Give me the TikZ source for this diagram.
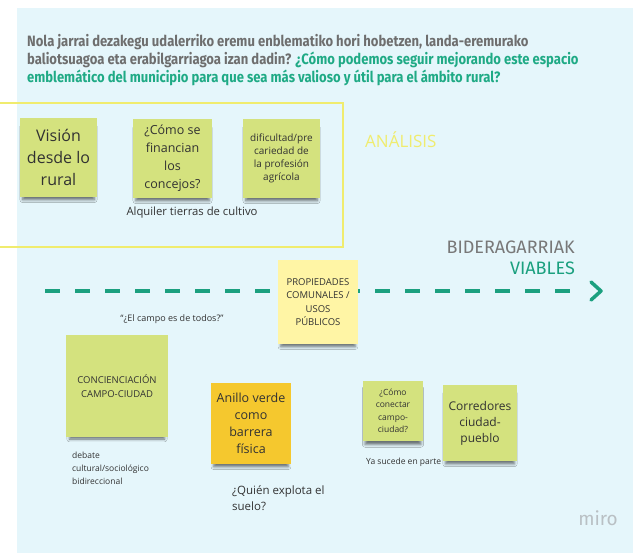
\documentclass[tikz,border=0pt]{standalone}
\usepackage{fontspec}
\setmainfont{Open Sans}
\newfontfamily\titlefont[FakeStretch=0.87]{Fira Sans}
\newfontfamily\headfont{Fira Sans}
\usetikzlibrary{shadows,shadows.blur,arrows.meta}
\definecolor{panel}{RGB}{229,246,251}
\definecolor{notegreen}{RGB}{212,226,126}
\definecolor{noteorange}{RGB}{245,200,46}
\definecolor{noteyellow}{RGB}{255,245,165}
\definecolor{teal}{RGB}{27,160,127}
\definecolor{titleteal}{RGB}{31,170,133}
\definecolor{titlegray}{RGB}{110,110,110}
\definecolor{headgray}{RGB}{120,120,120}
\definecolor{boxyellow}{RGB}{240,236,110}
\definecolor{notetext}{RGB}{50,50,50}
\definecolor{mirogray}{RGB}{185,192,196}
\tikzset{
  note/.style={inner sep=2pt, align=center, text=notetext,
    blur shadow={shadow xshift=0pt, shadow yshift=-6pt, shadow blur radius=3pt, shadow opacity=55, shadow scale=0.93}},
  greennote/.style={note, fill=notegreen},
  plain/.style={inner sep=0pt, text=notetext},
}
\begin{document}
\begin{tikzpicture}[x=1pt,y=-1pt]
\useasboundingbox (0,0) rectangle (633,558);
\fill[white] (0,0) rectangle (633,558);
\fill[panel] (17,8) rectangle (633,553);

% title
\node[anchor=north west, inner sep=0pt, align=left, font=\titlefont\bfseries\fontsize{15}{18}\selectfont, text=titlegray] (title) at (27,34)
 {Nola jarrai dezakegu udalerriko eremu enblematiko hori hobetzen, landa-eremurako\\
  baliotsuagoa eta erabilgarriagoa izan dadin? \textcolor{titleteal}{¿Cómo podemos seguir mejorando este espacio}\\
  \textcolor{titleteal}{emblemático del municipio para que sea más valioso y útil para el ámbito rural?}};

% analysis frame
\draw[boxyellow, line width=2pt] (-5,103) rectangle (343,247);
\node[anchor=west, inner sep=0pt, text=boxyellow, font=\fontsize{17}{20}\selectfont] (analisis) at (365,140) {ANÁLISIS};

% analysis notes
\node[greennote, minimum width=77pt, minimum height=79pt, font=\fontsize{16}{22}\selectfont] (vision) at (58.5,157.5) {Visión\\desde lo\\rural};
\node[greennote, minimum width=79pt, minimum height=79pt, font=\fontsize{12.5}{18}\selectfont] (financian) at (172.5,158.5) {¿Cómo se\\financian\\los\\concejos?};
\node[greennote, minimum width=77pt, minimum height=79pt, font=\fontsize{10}{13}\selectfont] (dificultad) at (281.5,158.5) {dificultad/pre\\cariedad de\\la profesión\\agrícola};
\node[plain, font=\fontsize{11.3}{13}\selectfont] (alquiler) at (192,213) {Alquiler tierras de cultivo};

% viables
\node[anchor=east, inner sep=0pt, text=headgray, font=\headfont\fontsize{18}{20}\selectfont] (bider) at (575,247) {BIDERAGARRIAK};
\node[anchor=east, inner sep=0pt, text=teal, font=\headfont\fontsize{18}{20}\selectfont] (viables) at (575,268) {VIABLES};

\coordinate (arrstart) at (45,291);
\coordinate (arrend) at (601,291);
\draw[teal, line width=4pt, dash pattern=on 15pt off 15pt] (arrstart) -- (581,291);
\draw[teal, line width=3.5pt, line cap=round, line join=round] (591,282) -- (arrend) -- (591,300);

\node[note, fill=noteyellow, minimum width=80pt, minimum height=84pt, font=\fontsize{9.5}{13.5}\selectfont] (prop) at (318,302) {PROPIEDADES\\COMUNALES /\\USOS\\PÚBLICOS};

\node[plain, font=\fontsize{9}{11}\selectfont] (campo) at (172,319) {“¿El campo es de todos?”};

\node[greennote, minimum width=102pt, minimum height=102pt, font=\fontsize{9.5}{14}\selectfont] (conc) at (117,386) {CONCIENCIACIÓN\\CAMPO-CIUDAD};
\node[plain, anchor=north west, align=left, font=\fontsize{8.5}{13}\selectfont] (debate) at (72,452) {debate\\cultural/sociológico\\bidireccional};

\node[note, fill=noteorange, minimum width=80pt, minimum height=81pt, font=\fontsize{12.5}{17}\selectfont] (anillo) at (251,423.5) {Anillo verde\\como\\barrera\\física};
\node[plain, anchor=north west, align=left, font=\fontsize{11.5}{16}\selectfont] (quien) at (232,485) {¿Quién explota el\\suelo?};

\node[greennote, minimum width=60pt, minimum height=60pt, font=\fontsize{8.5}{12.5}\selectfont] (conectar) at (393,411) {¿Cómo\\conectar\\campo-\\ciudad?};
\node[greennote, minimum width=74pt, minimum height=76pt, font=\fontsize{12}{16}\selectfont] (corred) at (480,423) {Corredores\\ciudad-\\pueblo};
\node[plain, anchor=west, font=\fontsize{8.5}{11}\selectfont] (sucede) at (366,462) {Ya sucede en parte};

\node[anchor=east, inner sep=0pt, text=mirogray, font=\headfont\fontsize{19}{21}\selectfont] (miro) at (618,518) {miro};
\end{tikzpicture}
\end{document}
